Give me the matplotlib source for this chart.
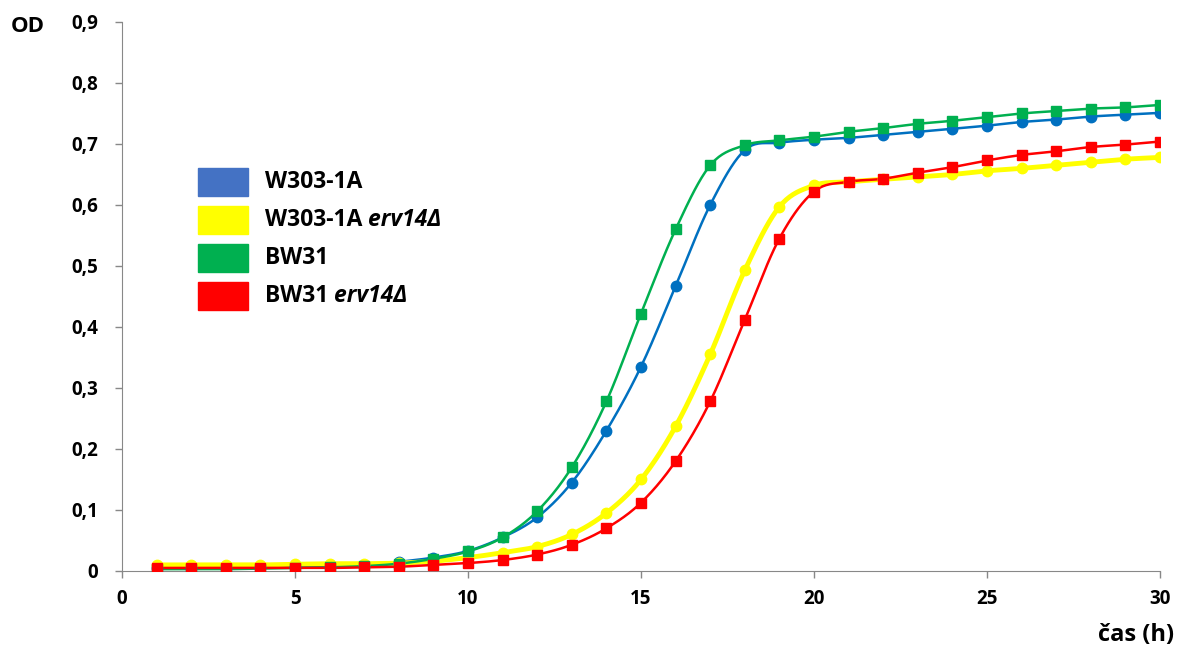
import numpy as np
import matplotlib.pyplot as plt
from matplotlib.patches import Rectangle

plt.rcParams['font.family'] = ['Open Sans', 'DejaVu Sans']

# hours
hours = list(range(1, 31))

# OD readings per strain
w303 = [0.005, 0.005, 0.005, 0.006, 0.006, 0.007, 0.009, 0.015, 0.022, 0.033,
        0.055, 0.088, 0.145, 0.230, 0.335, 0.467, 0.600, 0.690, 0.702, 0.707,
        0.710, 0.715, 0.720, 0.725, 0.730, 0.736, 0.740, 0.745, 0.748, 0.751]
w303_erv = [0.010, 0.010, 0.010, 0.010, 0.011, 0.012, 0.012, 0.013, 0.016, 0.022,
            0.030, 0.040, 0.060, 0.095, 0.150, 0.237, 0.355, 0.493, 0.597, 0.632,
            0.638, 0.642, 0.646, 0.650, 0.656, 0.660, 0.665, 0.670, 0.675, 0.678]
bw31 = [0.003, 0.003, 0.003, 0.004, 0.005, 0.006, 0.008, 0.012, 0.020, 0.032,
        0.055, 0.098, 0.170, 0.278, 0.422, 0.560, 0.665, 0.698, 0.706, 0.712,
        0.720, 0.726, 0.733, 0.738, 0.744, 0.750, 0.754, 0.758, 0.760, 0.764]
bw31_erv = [0.005, 0.005, 0.005, 0.005, 0.005, 0.005, 0.006, 0.007, 0.010, 0.013,
            0.018, 0.027, 0.043, 0.070, 0.112, 0.180, 0.278, 0.412, 0.545, 0.622,
            0.638, 0.643, 0.653, 0.662, 0.673, 0.682, 0.688, 0.695, 0.699, 0.704]

labels = ['W303-1A', 'W303-1A', 'BW31', 'BW31']
italic_part = ['', 'erv14\u0394', '', 'erv14\u0394']
legend_colors = ['#4472C4', '#FFFF00', '#00B050', '#FF0000']


def smooth(x, y, n=20):
    # excel-like smoothed line (catmull-rom through the points)
    x = np.asarray(x, float)
    y = np.asarray(y, float)
    px = np.concatenate([[x[0]], x, [x[-1]]])
    py = np.concatenate([[y[0]], y, [y[-1]]])
    t = np.linspace(0, 1, n, endpoint=False)
    xs, ys = [], []
    for i in range(1, len(px) - 2):
        p0, p1, p2, p3 = px[i-1], px[i], px[i+1], px[i+2]
        q0, q1, q2, q3 = py[i-1], py[i], py[i+1], py[i+2]
        c1x, c2x = p1 + (p2 - p0) / 6, p2 - (p3 - p1) / 6
        c1y, c2y = q1 + (q2 - q0) / 6, q2 - (q3 - q1) / 6
        b0, b1, b2, b3 = (1-t)**3, 3*(1-t)**2*t, 3*(1-t)*t**2, t**3
        xs.append(b0*p1 + b1*c1x + b2*c2x + b3*p2)
        ys.append(b0*q1 + b1*c1y + b2*c2y + b3*q2)
    xs.append([x[-1]])
    ys.append([y[-1]])
    return np.concatenate(xs), np.concatenate(ys)


fig = plt.figure(figsize=(11.78, 6.46), dpi=100)
ax = fig.add_axes([0.1036, 0.1161, 0.8811, 0.8499])

series = [
    (w303, '#0070C0', 'o', 1.8, 7.5),
    (w303_erv, '#FFFF00', 'o', 3.5, 7.5),
    (bw31, '#00B050', 's', 1.8, 7.5),
    (bw31_erv, '#FF0000', 's', 1.8, 7.5),
]
for vals, c, m, lw, ms in series:
    sx, sy = smooth(hours, vals)
    ax.plot(sx, sy, color=c, lw=lw, zorder=2)
    ax.plot(hours, vals, ls='none', marker=m, color=c, ms=ms, zorder=3)

ax.set_xlim(0, 30)
ax.set_ylim(0, 0.9)
ax.set_xticks(range(0, 31, 5))
ax.set_yticks(np.arange(0, 0.91, 0.1))
ax.set_yticklabels(['0'] + ['0,%d' % i for i in range(1, 10)])
for s in ['top', 'right']:
    ax.spines[s].set_visible(False)
for s in ['left', 'bottom']:
    ax.spines[s].set_color('#888888')
ax.tick_params(colors='#888888', length=5, width=1, labelcolor='black',
               labelsize=13.5)
for lbl in ax.get_xticklabels() + ax.get_yticklabels():
    lbl.set_fontweight('bold')
ax.tick_params(axis='y', pad=12)
ax.tick_params(axis='x', pad=8)

fig.text(28 / 1178, 1 - 27 / 646, 'OD', fontsize=16, fontweight='bold',
         ha='center', va='center')
fig.text(1136 / 1178, 1 - 635 / 646, 'čas (h)', fontsize=17, fontweight='bold',
         ha='center', va='center')

# legend drawn by hand (bold + italic parts)
for i in range(4):
    ytop = 168 + i * 38
    fig.patches.append(Rectangle((198 / 1178, 1 - (ytop + 28) / 646),
                                 50 / 1178, 28 / 646,
                                 transform=fig.transFigure,
                                 color=legend_colors[i]))
    t = fig.text(265 / 1178, 1 - (ytop + 14) / 646, labels[i], fontsize=16.5,
                 fontweight='bold', va='center', ha='left')
    if italic_part[i]:
        ax.annotate(' ' + italic_part[i], xy=(1, 0.5), xycoords=t,
                    va='center', ha='left', fontsize=16.5, fontweight='bold',
                    style='italic', annotation_clip=False)

fig.savefig('out.png', dpi=100)
